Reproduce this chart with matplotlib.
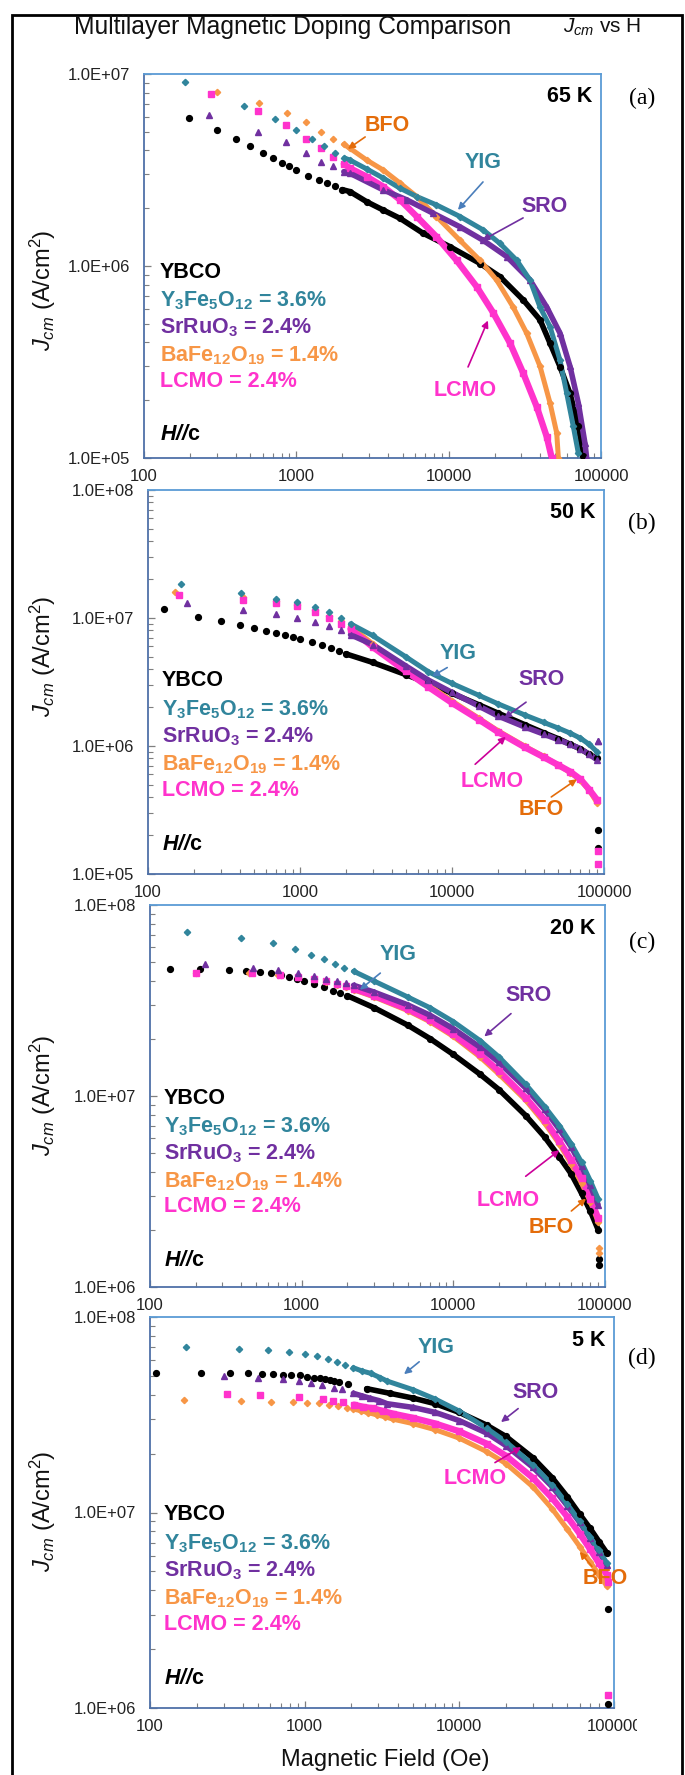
import numpy as np
import matplotlib
matplotlib.use('Agg')
import matplotlib.pyplot as plt
from matplotlib.ticker import LogLocator, FuncFormatter, NullFormatter
from matplotlib.patches import Rectangle
from matplotlib.transforms import Bbox, TransformedBbox, IdentityTransform

plt.rcParams['font.family'] = ['Liberation Sans', 'DejaVu Sans']
plt.rcParams['mathtext.fontset'] = 'custom'
plt.rcParams['mathtext.rm'] = 'Liberation Sans'
plt.rcParams['mathtext.it'] = 'Liberation Sans:italic'
plt.rcParams['mathtext.bf'] = 'Liberation Sans:bold'
plt.rcParams['mathtext.sf'] = 'Liberation Sans:bold:italic'

# ---------------- data: panel (a) 65 K ----------------
H_a_ybco = [196, 300, 400, 500, 600, 700, 800, 900, 1000, 1200, 1400, 1600, 1800, 2000, 2250, 2900, 3700, 4800, 6800, 10200, 16100, 21700, 30900, 39800, 46300, 53800, 62600, 71000, 76500]
J_a_ybco = [5.9e6, 5.1e6, 4.6e6, 4.2e6, 3.9e6, 3.65e6, 3.45e6, 3.3e6, 3.15e6, 2.95e6, 2.8e6, 2.7e6, 2.6e6, 2.5e6, 2.44e6, 2.16e6, 1.96e6, 1.77e6, 1.48e6, 1.26e6, 1.03e6, 8.8e5, 6.65e5, 5.24e5, 3.96e5, 2.99e5, 2.17e5, 1.46e5, 1.02e5]
H_a_yig = [186, 452, 720, 990, 1260, 1530, 1800, 2070, 2250, 2900, 3720, 4800, 6170, 8320, 11860, 16870, 21730, 28000, 34200, 39800, 46300, 53800, 59600, 65800, 71000]
J_a_yig = [9.1e6, 6.8e6, 5.8e6, 5.1e6, 4.6e6, 4.2e6, 3.9e6, 3.65e6, 3.56e6, 3.2e6, 2.87e6, 2.54e6, 2.3e6, 2.08e6, 1.81e6, 1.54e6, 1.31e6, 1.07e6, 8.45e5, 6.1e5, 4.83e5, 3.23e5, 2.17e5, 1.46e5, 1.06e5]
H_a_sro = [266, 560, 850, 1150, 1450, 1750, 2050, 2250, 3720, 5310, 7930, 11860, 16870, 24040, 34200, 44050, 53800, 62600, 71000, 78500, 80500]
J_a_sro = [6.1e6, 5.0e6, 4.4e6, 3.9e6, 3.5e6, 3.3e6, 3.1e6, 3.04e6, 2.49e6, 2.21e6, 1.88e6, 1.6e6, 1.36e6, 1.12e6, 8.45e5, 6.1e5, 4.47e5, 3.0e5, 1.93e5, 1.19e5, 1.0e5]
H_a_bfo = [302, 573, 870, 1150, 1450, 1750, 2050, 2250, 2900, 3720, 4800, 6170, 8320, 11860, 16070, 20650, 26550, 32500, 39800, 46300, 51200, 52500]
J_a_bfo = [8.1e6, 7.1e6, 6.3e6, 5.6e6, 5.0e6, 4.6e6, 4.3e6, 4.1e6, 3.56e6, 3.16e6, 2.7e6, 2.3e6, 1.81e6, 1.36e6, 1.07e6, 8.45e5, 6.1e5, 4.47e5, 3.0e5, 1.93e5, 1.35e5, 1.0e5]
H_a_lcmo = [277, 562, 850, 1150, 1450, 1750, 2050, 2250, 2900, 3720, 4800, 6170, 8320, 11270, 15280, 19630, 25300, 30900, 37840, 44050, 47500]
J_a_lcmo = [7.9e6, 6.4e6, 5.4e6, 4.6e6, 4.1e6, 3.7e6, 3.4e6, 3.23e6, 2.92e6, 2.59e6, 2.21e6, 1.81e6, 1.42e6, 1.07e6, 7.8e5, 5.7e5, 3.96e5, 2.76e5, 1.85e5, 1.29e5, 1.0e5]

# ---------------- data: panel (b) 50 K ----------------
H_b_ybco = [128, 214, 300, 400, 500, 600, 700, 800, 900, 1000, 1200, 1400, 1600, 1800, 2000, 3000, 5000, 7000, 10000, 15000, 20000, 30000, 40000, 50000, 60000, 70000, 80000, 90000]
J_b_ybco = [1.17e7, 1.02e7, 9.4e6, 8.8e6, 8.3e6, 7.9e6, 7.6e6, 7.3e6, 7.1e6, 6.9e6, 6.5e6, 6.1e6, 5.8e6, 5.5e6, 5.25e6, 4.5e6, 3.6e6, 3.09e6, 2.58e6, 2.1e6, 1.81e6, 1.47e6, 1.27e6, 1.14e6, 1.03e6, 9.5e5, 8.6e5, 8.0e5]
H_b_yig = [165, 411, 700, 950, 1250, 1550, 1850, 2150, 3000, 5000, 7000, 10000, 15000, 20000, 30000, 40000, 50000, 60000, 70000, 80000, 90000]
J_b_yig = [1.84e7, 1.56e7, 1.42e7, 1.34e7, 1.22e7, 1.11e7, 1.0e7, 9.0e6, 7.3e6, 4.95e6, 3.8e6, 3.08e6, 2.49e6, 2.14e6, 1.75e6, 1.53e6, 1.38e6, 1.26e6, 1.15e6, 1.03e6, 9.0e5]
H_b_sro = [180, 420, 700, 950, 1250, 1550, 1850, 2150, 3000, 5000, 7000, 10000, 15000, 20000, 30000, 40000, 50000, 60000, 70000, 80000, 90000]
J_b_sro = [1.3e7, 1.15e7, 1.07e7, 1.0e7, 9.3e6, 8.6e6, 8.0e6, 7.4e6, 6.2e6, 4.2e6, 3.27e6, 2.62e6, 2.05e6, 1.72e6, 1.41e6, 1.24e6, 1.12e6, 1.03e6, 9.5e5, 8.6e5, 7.8e5]
H_b_bfo = [150, 420, 700, 950, 1250, 1550, 1850, 2150, 3000, 5000, 7000, 10000, 15000, 20000, 30000, 40000, 50000, 60000, 70000, 80000, 90000]
J_b_bfo = [1.6e7, 1.45e7, 1.35e7, 1.27e7, 1.15e7, 1.04e7, 9.4e6, 8.6e6, 6.3e6, 4.0e6, 3.0e6, 2.25e6, 1.65e6, 1.32e6, 1.0e6, 8.3e5, 7.1e5, 6.2e5, 5.4e5, 4.5e5, 3.6e5]
H_b_lcmo = [160, 420, 700, 950, 1250, 1550, 1850, 2150, 3000, 5000, 7000, 10000, 15000, 20000, 30000, 40000, 50000, 60000, 70000, 80000, 90000]
J_b_lcmo = [1.5e7, 1.38e7, 1.3e7, 1.25e7, 1.12e7, 1.0e7, 9.0e6, 8.2e6, 5.95e6, 3.82e6, 2.89e6, 2.17e6, 1.61e6, 1.29e6, 9.8e5, 8.2e5, 7.1e5, 6.3e5, 5.5e5, 4.57e5, 3.8e5]

# ---------------- data: panel (c) 20 K ----------------
H_c_ybco = [135, 213, 330, 430, 530, 630, 730, 830, 930, 1030, 1200, 1400, 1600, 1800, 2000, 3000, 5000, 7000, 10000, 15000, 20000, 30000, 40000, 50000, 60000, 70000, 80000, 90000]
J_c_ybco = [4.6e7, 4.6e7, 4.55e7, 4.5e7, 4.45e7, 4.4e7, 4.3e7, 4.2e7, 4.1e7, 4.0e7, 3.85e7, 3.7e7, 3.55e7, 3.45e7, 3.35e7, 2.9e7, 2.35e7, 2.0e7, 1.65e7, 1.3e7, 1.08e7, 7.9e6, 6.1e6, 4.8e6, 3.9e6, 3.1e6, 2.5e6, 2.0e6]
H_c_yig = [175, 400, 650, 900, 1150, 1400, 1650, 1900, 2200, 3000, 5000, 7000, 10000, 15000, 20000, 30000, 40000, 50000, 60000, 70000, 80000, 90000]
J_c_yig = [7.2e7, 6.7e7, 6.3e7, 5.9e7, 5.5e7, 5.2e7, 4.9e7, 4.7e7, 4.5e7, 4.0e7, 3.3e7, 2.9e7, 2.45e7, 1.95e7, 1.6e7, 1.15e7, 8.8e6, 7.0e6, 5.6e6, 4.5e6, 3.6e6, 2.9e6]
H_c_sro = [230, 480, 700, 950, 1200, 1450, 1700, 1950, 2200, 3000, 5000, 7000, 10000, 15000, 20000, 30000, 40000, 50000, 60000, 70000, 80000, 90000]
J_c_sro = [4.9e7, 4.7e7, 4.55e7, 4.4e7, 4.25e7, 4.1e7, 4.0e7, 3.9e7, 3.8e7, 3.5e7, 3.0e7, 2.65e7, 2.25e7, 1.8e7, 1.5e7, 1.1e7, 8.5e6, 6.7e6, 5.4e6, 4.3e6, 3.4e6, 2.7e6]
H_c_bfo = [200, 450, 700, 950, 1200, 1450, 1700, 1950, 2200, 3000, 5000, 7000, 10000, 15000, 20000, 30000, 40000, 50000, 60000, 70000, 80000, 90000]
J_c_bfo = [4.4e7, 4.4e7, 4.3e7, 4.2e7, 4.1e7, 3.95e7, 3.8e7, 3.7e7, 3.6e7, 3.3e7, 2.8e7, 2.45e7, 2.05e7, 1.6e7, 1.3e7, 9.5e6, 7.2e6, 5.6e6, 4.4e6, 3.5e6, 2.8e6, 2.2e6]
H_c_lcmo = [200, 470, 720, 950, 1200, 1450, 1700, 1950, 2200, 3000, 5000, 7000, 10000, 15000, 20000, 30000, 40000, 50000, 60000, 70000, 80000, 90000]
J_c_lcmo = [4.4e7, 4.4e7, 4.3e7, 4.2e7, 4.1e7, 4.0e7, 3.85e7, 3.75e7, 3.65e7, 3.35e7, 2.85e7, 2.5e7, 2.1e7, 1.65e7, 1.35e7, 9.8e6, 7.5e6, 5.8e6, 4.6e6, 3.7e6, 2.9e6, 2.3e6]

# ---------------- data: panel (d) 5 K ----------------
H_d_ybco = [110, 213, 329, 432, 527, 627, 721, 817, 933, 1040, 1148, 1260, 1360, 1458, 1550, 1674, 1915, 2516, 3560, 5000, 7000, 10000, 15000, 20000, 30000, 40000, 50000, 60000, 70000, 80000, 90000]
J_d_ybco = [5.2e7, 5.2e7, 5.2e7, 5.15e7, 5.1e7, 5.1e7, 5.07e7, 5.05e7, 5.03e7, 4.95e7, 4.9e7, 4.85e7, 4.8e7, 4.76e7, 4.72e7, 4.67e7, 4.53e7, 4.3e7, 4.07e7, 3.85e7, 3.6e7, 3.25e7, 2.8e7, 2.45e7, 1.9e7, 1.5e7, 1.2e7, 9.8e6, 8.3e6, 7.1e6, 6.2e6]
H_d_yig = [171, 376, 582, 793, 1005, 1208, 1423, 1620, 1824, 2065, 2340, 2675, 3070, 3420, 5000, 7000, 10000, 15000, 20000, 30000, 40000, 50000, 60000, 70000, 80000, 90000]
J_d_yig = [7.0e7, 6.9e7, 6.76e7, 6.6e7, 6.5e7, 6.3e7, 6.1e7, 5.9e7, 5.7e7, 5.5e7, 5.3e7, 5.15e7, 4.9e7, 4.7e7, 4.25e7, 3.8e7, 3.3e7, 2.7e7, 2.3e7, 1.75e7, 1.38e7, 1.1e7, 9.0e6, 7.5e6, 6.4e6, 5.5e6]
H_d_sro = [300, 501, 721, 923, 1099, 1300, 1550, 1750, 2065, 2340, 2640, 3040, 3420, 5000, 7000, 10000, 15000, 20000, 30000, 40000, 50000, 60000, 70000, 80000, 90000]
J_d_sro = [4.99e7, 4.9e7, 4.8e7, 4.72e7, 4.58e7, 4.48e7, 4.35e7, 4.26e7, 4.07e7, 3.95e7, 3.84e7, 3.73e7, 3.6e7, 3.45e7, 3.25e7, 2.95e7, 2.55e7, 2.2e7, 1.7e7, 1.35e7, 1.08e7, 8.9e6, 7.4e6, 6.3e6, 5.4e6]
H_d_bfo = [166, 387, 603, 836, 1040, 1240, 1442, 1650, 1870, 2065, 2300, 2580, 2920, 3300, 3740, 5000, 7000, 10000, 15000, 20000, 30000, 40000, 50000, 60000, 70000, 80000, 90000]
J_d_bfo = [3.75e7, 3.72e7, 3.69e7, 3.66e7, 3.64e7, 3.62e7, 3.55e7, 3.5e7, 3.44e7, 3.38e7, 3.32e7, 3.24e7, 3.16e7, 3.09e7, 3.0e7, 2.85e7, 2.65e7, 2.4e7, 2.05e7, 1.78e7, 1.35e7, 1.04e7, 8.2e6, 6.7e6, 5.6e6, 4.8e6, 4.2e6]
H_d_lcmo = [313, 514, 923, 1310, 1517, 1780, 2085, 2390, 2780, 3220, 3740, 5000, 7000, 10000, 15000, 20000, 30000, 40000, 50000, 60000, 70000, 80000, 90000]
J_d_lcmo = [4.03e7, 3.98e7, 3.9e7, 3.8e7, 3.73e7, 3.67e7, 3.56e7, 3.47e7, 3.41e7, 3.3e7, 3.2e7, 3.05e7, 2.85e7, 2.6e7, 2.25e7, 1.95e7, 1.5e7, 1.18e7, 9.5e6, 7.8e6, 6.5e6, 5.5e6, 4.8e6]

# isolated last readings at the top field (off the curves)
H_end = [91000, 91000]
J_b_end_ybco = [2.2e5, 1.6e5]
J_b_end_lcmo = [1.5e5, 1.2e5]
J_b_end_sro = [1.1e6, 1.1e6]
J_c_end_ybco = [1.4e6, 1.3e6]
J_c_end_bfo = [1.6e6, 1.5e6]
J_d_end_ybco = [3.2e6, 1.05e6]
J_d_end_lcmo = [4.4e6, 1.17e6]

panels = ['a', 'b', 'c', 'd']
temps = ['65 K', '50 K', '20 K', '5 K']
y_ranges = {'a': (1e5, 1e7), 'b': (1e5, 1e8), 'c': (1e6, 1e8), 'd': (1e6, 1e8)}
x_range = (100, 100000)
series = ['ybco', 'bfo', 'lcmo', 'sro', 'yig']

# ---------------- styles ----------------
TEAL = '#31859C'
PURPLE = '#7030A0'
ORANGE = '#F79646'
DKORANGE = '#E46C0A'
MAGENTA = '#FF33CC'
styles = {
    'ybco': dict(color='black', marker='o', ms=4.2, lw=4.0),
    'yig': dict(color=TEAL, marker='D', ms=3.2, lw=3.6),
    'sro': dict(color=PURPLE, marker='^', ms=4.4, lw=4.0),
    'bfo': dict(color=ORANGE, marker='D', ms=3.2, lw=3.6),
    'lcmo': dict(color=MAGENTA, marker='s', ms=4.0, lw=4.6),
}

W, HT = 685, 1775
fig = plt.figure(figsize=(W / 100, HT / 100), dpi=100)


def fx(x):
    return x / W


def fy(y):
    return 1 - y / HT


boxes = {'a': (144, 601, 74, 458), 'b': (148, 604, 490, 874),
         'c': (150, 605, 905, 1287), 'd': (150, 614, 1317, 1708)}

data = globals()
axes = {}
for p, T in zip(panels, temps):
    l, r, t, b = boxes[p]
    ax = fig.add_axes([fx(l), fy(b), (r - l) / W, (b - t) / HT])
    axes[p] = ax
    ax.set_xscale('log')
    ax.set_yscale('log')
    ax.set_xlim(*x_range)
    ax.set_ylim(*y_ranges[p])
    for s in series:
        Hs = np.asarray(data['H_%s_%s' % (p, s)], float)
        Js = np.asarray(data['J_%s_%s' % (p, s)], float)
        st = styles[s]
        dense = Hs >= 2000
        ax.plot(Hs[dense], Js[dense], '-', color=st['color'], lw=st['lw'],
                solid_capstyle='round', zorder=2)
        ax.plot(Hs, Js, ls='none', marker=st['marker'], ms=st['ms'],
                color=st['color'], mec=st['color'], zorder=3)
    for s in ['ybco', 'lcmo', 'bfo', 'sro']:
        key = 'J_%s_end_%s' % (p, s)
        if key in data:
            st = styles[s]
            ax.plot(H_end, data[key], ls='none', marker=st['marker'], ms=st['ms'],
                    color=st['color'], zorder=3)
    for side in ['left', 'bottom']:
        ax.spines[side].set_color('#4F71A8')
    for side in ['top', 'right']:
        ax.spines[side].set_color('#5B9BD5')
    for sp in ax.spines.values():
        sp.set_linewidth(1.3)
    ax.xaxis.set_major_locator(LogLocator(base=10, numticks=10))
    ax.xaxis.set_minor_locator(LogLocator(base=10, subs=np.arange(2, 10), numticks=20))
    ax.yaxis.set_major_locator(LogLocator(base=10, numticks=10))
    ax.yaxis.set_minor_locator(LogLocator(base=10, subs=np.arange(2, 10), numticks=20))
    ax.xaxis.set_major_formatter(FuncFormatter(lambda v, _: '%d' % round(v)))
    ax.yaxis.set_major_formatter(FuncFormatter(lambda v, _: '%.1E' % v))
    ax.xaxis.set_minor_formatter(NullFormatter())
    ax.yaxis.set_minor_formatter(NullFormatter())
    ax.tick_params(which='both', direction='in', colors='#7F7F7F', labelcolor='#222222',
                   labelsize=12, top=False, right=False)
    ax.tick_params(which='major', length=5, width=0.9)
    ax.tick_params(which='minor', length=3.5, width=0.8)
    ax.tick_params(axis='y', pad=10)
    ax.tick_params(axis='x', pad=8)
    fig.text(fx(r - 9), fy(t + 23), T, ha='right', va='center', fontsize=15.5,
             fontweight='bold', color='black')

letters = {'a': 98, 'b': 523, 'c': 942, 'd': 1358}
for p in panels:
    fig.text(fx(642), fy(letters[p]), '(%s)' % p, ha='center', va='center',
             fontsize=17, family='Liberation Serif', color='black')

leg_y = {'a': 270, 'b': 679, 'c': 1096, 'd': 1513}
leg_x = {'a': 160, 'b': 162, 'c': 164, 'd': 164}
leg_items = [
    ('YBCO', 'black', 0),
    (r'$\mathbf{Y_3Fe_5O_{12}}$ = 3.6%', TEAL, 29),
    (r'$\mathbf{SrRuO_3}$ = 2.4%', PURPLE, 56),
    (r'$\mathbf{BaFe_{12}O_{19}}$ = 1.4%', ORANGE, 84),
    ('LCMO = 2.4%', MAGENTA, 109),
    (r'$\mathsf{H//}$c', 'black', 163),
]
for p in panels:
    for txt, col, dy in leg_items:
        fig.text(fx(leg_x[p]), fy(leg_y[p] + dy + 7.5), txt, ha='left', va='baseline',
                 fontsize=15.5, fontweight='bold', color=col)

ann = {
    'a': [('BFO', DKORANGE, DKORANGE, (3940, 5.4e6), (2830, 4.7e6), (2180, 4.07e6)),
          ('YIG', TEAL, '#4A7EBB', (16800, 3.48e6), (16800, 2.74e6), (11500, 1.96e6)),
          ('SRO', PURPLE, PURPLE, (42800, 2.03e6), (30800, 1.78e6), (16600, 1.36e6)),
          ('LCMO', MAGENTA, '#CC0099', (12800, 2.26e5), (13400, 2.98e5), (18100, 5.2e5))],
    'b': [('YIG', TEAL, '#4A7EBB', (11000, 5.3e6), (9300, 4.1e6), (7400, 3.5e6)),
          ('SRO', PURPLE, PURPLE, (38600, 3.3e6), (30700, 2.2e6), (22000, 1.65e6)),
          ('LCMO', MAGENTA, '#CC0099', (18300, 5.3e5), (14200, 7.2e5), (22600, 1.18e6)),
          ('BFO', DKORANGE, DKORANGE, (38600, 3.2e5), (45000, 4.0e5), (66400, 5.5e5))],
    'c': [('YIG', TEAL, '#4A7EBB', (4350, 5.5e7), (3300, 4.4e7), (2420, 3.6e7)),
          ('SRO', PURPLE, PURPLE, (31300, 3.34e7), (24000, 2.7e7), (16000, 2.05e7)),
          ('LCMO', MAGENTA, '#CC0099', (22900, 2.85e6), (30000, 3.8e6), (50000, 5.2e6)),
          ('BFO', DKORANGE, DKORANGE, (44000, 2.06e6), (60000, 2.5e6), (75000, 2.9e6))],
    'd': [('YIG', TEAL, '#4A7EBB', (7060, 7.0e7), (5500, 5.9e7), (4390, 5.1e7)),
          ('SRO', PURPLE, PURPLE, (31000, 4.13e7), (24000, 3.4e7), (18600, 2.9e7)),
          ('LCMO', MAGENTA, '#CC0099', (12600, 1.5e7), (17000, 1.8e7), (25100, 2.16e7)),
          ('BFO', DKORANGE, DKORANGE, (88000, 4.6e6), (72000, 5.3e6), (60000, 6.3e6))],
}
for p in panels:
    ax = axes[p]
    for txt, tcol, acol, tpos, tail, head in ann[p]:
        ax.text(tpos[0], tpos[1], txt, ha='center', va='center', fontsize=15.5,
                fontweight='bold', color=tcol, zorder=5)
        ax.annotate('', xy=head, xytext=tail,
                    arrowprops=dict(arrowstyle='-|>', color=acol, lw=1.2,
                                    mutation_scale=10, shrinkA=0, shrinkB=0), zorder=5)

ylab_y = {'a': 290, 'b': 656, 'c': 1095, 'd': 1511}
for p in panels:
    fig.text(fx(43), fy(ylab_y[p]), r'$J_{cm}$ (A/cm$^2$)', rotation=90, ha='center',
             va='center', fontsize=17, color='#111111')
fig.text(fx(385), fy(1760), 'Magnetic Field (Oe)', ha='center', va='center',
         fontsize=17, color='#111111')
fig.text(fx(74), fy(27), 'Multilayer Magnetic Doping Comparison', ha='left', va='center',
         fontsize=17.8, color='#111111')
fig.text(fx(563), fy(27), r'$J_{cm}$ vs H', ha='left', va='center', fontsize=15,
         color='#111111')

fig.patches.append(Rectangle((fx(12), fy(1800)), fx(682) - fx(12), fy(15) - fy(1800),
                             transform=fig.transFigure, fill=False, ec='black', lw=2.0,
                             clip_on=False))

# the last x tick label of the bottom panel is cut off at the right in the original
fig.canvas.draw()
clip = TransformedBbox(Bbox([[0, 0], [637, HT]]), IdentityTransform())
for tick in axes['d'].xaxis.get_major_ticks():
    tick.label1.set_clip_on(True)
    tick.label1.set_clip_box(clip)

fig.savefig('out.png', dpi=100)
